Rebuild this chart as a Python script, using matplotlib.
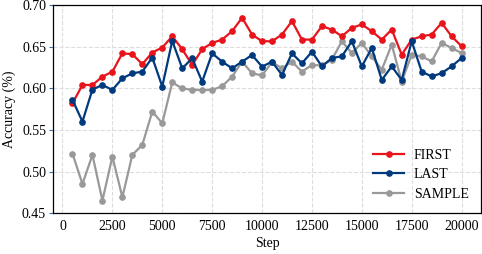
import matplotlib
matplotlib.use("Agg")
import matplotlib.pyplot as plt

steps = list(range(500, 20001, 500))

first = [0.582, 0.604, 0.604, 0.614, 0.620, 0.642, 0.641, 0.629, 0.643, 0.649,
         0.6625, 0.647, 0.628, 0.647, 0.6545, 0.6585, 0.6686, 0.6847, 0.6646, 0.6565,
         0.6565, 0.6646, 0.6807, 0.6585, 0.6585, 0.6746, 0.6706, 0.6625, 0.6726, 0.6767,
         0.6686, 0.6585, 0.6706, 0.6404, 0.6585, 0.6625, 0.6646, 0.6786, 0.6625, 0.6505]

last = [0.586, 0.560, 0.5985, 0.604, 0.598, 0.612, 0.618, 0.620, 0.637, 0.602,
        0.657, 0.624, 0.636, 0.608, 0.642, 0.632, 0.624, 0.632, 0.640, 0.626,
        0.632, 0.616, 0.642, 0.630, 0.644, 0.6263, 0.6364, 0.6384, 0.6565, 0.6263,
        0.6484, 0.610, 0.6263, 0.610, 0.6565, 0.620, 0.6142, 0.6182, 0.6263, 0.6364]

sample = [0.5216, 0.485, 0.520, 0.465, 0.518, 0.469, 0.520, 0.532, 0.572, 0.558,
          0.607, 0.600, 0.598, 0.598, 0.598, 0.6025, 0.614, 0.632, 0.618, 0.6155,
          0.6315, 0.624, 0.632, 0.620, 0.628, 0.6275, 0.6344, 0.6565, 0.6424, 0.6545,
          0.6384, 0.6223, 0.6525, 0.608, 0.6404, 0.6384, 0.6323, 0.6545, 0.6484, 0.6424]

yticks = [0.45, 0.50, 0.55, 0.60, 0.65, 0.70]
xticks = [0, 2500, 5000, 7500, 10000, 12500, 15000, 17500, 20000]

plt.rcParams['font.family'] = ['Liberation Serif', 'DejaVu Serif']

fig = plt.figure(figsize=(4.82, 2.54), dpi=100)
ax = fig.add_axes([0.110, 0.161, 0.888, 0.819])

ax.plot(steps, first, color='#e8141c', lw=1.6, marker='o', ms=3.8, label='FIRST', zorder=3)
ax.plot(steps, last, color='#003a7d', lw=1.6, marker='o', ms=3.8, label='LAST', zorder=3)
ax.plot(steps, sample, color='#999999', lw=1.6, marker='o', ms=3.8, label='SAMPLE', zorder=2)

ax.set_ylim(0.45, 0.70)
ax.set_yticks(yticks)
ax.set_yticklabels([f"{v:.2f}" for v in yticks])
ax.set_xticks(xticks)
ax.set_xticklabels([str(v) for v in xticks])
ax.grid(True, ls='--', color='#dddddd', lw=0.8)
ax.set_axisbelow(True)
for s in ax.spines.values():
    s.set_color('black')
    s.set_linewidth(0.9)
ax.tick_params(axis='y', length=3, color='#3a6fb0', labelsize=10, pad=2)
ax.tick_params(axis='x', length=0, labelsize=10, pad=5)
ax.set_xlabel('Step', fontsize=10, labelpad=3)
ax.set_ylabel('Accuracy (%)', fontsize=10, labelpad=4)

ax.legend(loc='lower right', frameon=False, fontsize=10, handlelength=2.2,
          handletextpad=0.7, borderaxespad=0.5, labelspacing=0.45)

fig.savefig('out.png', dpi=100)
